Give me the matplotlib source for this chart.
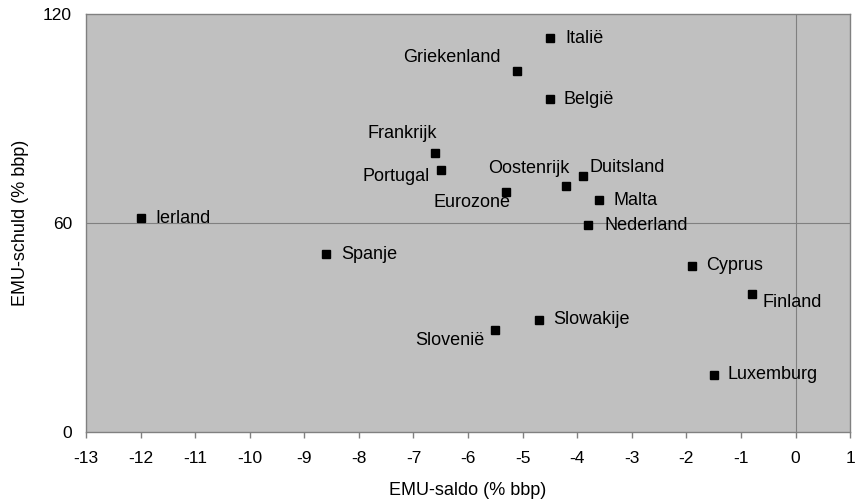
import matplotlib.pyplot as plt

# EMU-saldo vs EMU-schuld per land
landen = ['Ierland', 'Spanje', 'Italië', 'Griekenland', 'België', 'Frankrijk',
          'Portugal', 'Eurozone', 'Oostenrijk', 'Duitsland', 'Malta', 'Nederland',
          'Cyprus', 'Finland', 'Slowakije', 'Slovenië', 'Luxemburg']
saldo = [-12.0, -8.6, -4.5, -5.1, -4.5, -6.6,
         -6.5, -5.3, -4.2, -3.9, -3.6, -3.8,
         -1.9, -0.8, -4.7, -5.5, -1.5]
schuld = [61.4, 51.1, 113.1, 103.6, 95.6, 80.1,
          75.2, 68.9, 70.6, 73.5, 66.6, 59.4,
          47.7, 39.6, 32.2, 29.3, 16.4]

# label offsets in pixels (dx, dy) and horizontal alignment
label_pos = {
    'Ierland': (15, 0, 'left'), 'Spanje': (15, 0, 'left'),
    'Italië': (15, 0, 'left'), 'Griekenland': (-17, 14, 'right'),
    'België': (14, 0, 'left'), 'Frankrijk': (2, 20, 'right'),
    'Portugal': (-11, -6, 'right'), 'Eurozone': (4, -10, 'right'),
    'Oostenrijk': (3, 18, 'right'), 'Duitsland': (7, 8, 'left'),
    'Malta': (14, 0, 'left'), 'Nederland': (16, 0, 'left'),
    'Cyprus': (14, 0, 'left'), 'Finland': (11, -8, 'left'),
    'Slowakije': (14, 0, 'left'), 'Slovenië': (-11, -11, 'right'),
    'Luxemburg': (14, 0, 'left'),
}

plt.rcParams['font.family'] = ['Liberation Sans', 'DejaVu Sans']
plt.rcParams['axes.unicode_minus'] = False

fig = plt.figure(figsize=(8.64, 5.01), dpi=100)
ax = fig.add_axes([0.0995, 0.1377, 0.8845, 0.8343])
ax.set_facecolor('#c0c0c0')

ax.axhline(60, color='#808080', lw=0.8, zorder=1)
ax.axvline(0, color='#808080', lw=0.8, zorder=1)

ax.plot(saldo, schuld, 's', color='black', markersize=6, zorder=3)

for naam, x, y in zip(landen, saldo, schuld):
    dx, dy, ha = label_pos[naam]
    ax.annotate(naam, (x, y), xytext=(dx, dy), textcoords='offset pixels',
                ha=ha, va='center', fontsize=13, color='black')

ax.set_xlim(-13, 1)
ax.set_ylim(0, 120)
ax.set_xticks(range(-13, 2))
ax.set_yticks([0, 60, 120])
ax.tick_params(axis='x', length=4, width=1, color='#808080', pad=10, labelsize=12.5)
ax.tick_params(axis='y', length=0, pad=10, labelsize=12.5)

for s in ax.spines.values():
    s.set_color('#808080')
    s.set_linewidth(1.0)

ax.set_xlabel('EMU-saldo (% bbp)', fontsize=13, labelpad=11)
ax.set_ylabel('EMU-schuld (% bbp)', fontsize=13, labelpad=10)

fig.savefig('out.png', dpi=100)
